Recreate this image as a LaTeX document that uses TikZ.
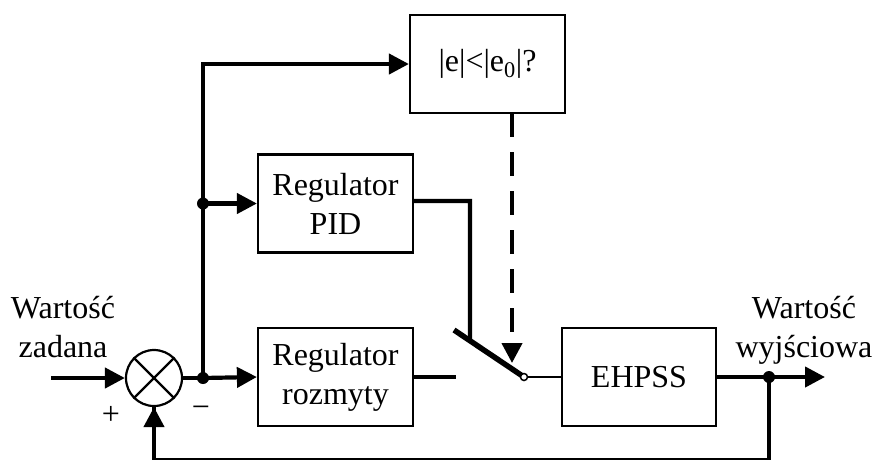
\documentclass[tikz,border=0pt]{standalone}
\usepackage{fontspec}
\setmainfont{Liberation Serif}
\usetikzlibrary{arrows.meta}
\begin{document}
\begin{tikzpicture}[x=1pt,y=-1pt,
  blk/.style={draw, line width=2.2pt, minimum width=155pt, minimum height=98pt, align=center, font=\fontsize{32}{39}\selectfont, inner sep=0pt},
  sig/.style={line width=4.2pt},
  arr/.style={sig, -{Triangle[length=20pt,width=20pt]}},
  dot/.style={circle, fill, inner sep=0pt, minimum size=12pt},
  lbl/.style={font=\fontsize{32}{39}\selectfont, align=center, inner sep=0pt}]
\useasboundingbox (0,0) rectangle (875,459);

\node[blk] (cond) at (487.5,64) {|e|<|e\textsubscript{0}|?};
\node[blk] (pid) at (335.5,203.5) {Regulator\\PID};
\node[blk] (roz) at (335.5,377) {Regulator\\rozmyty};
\node[blk, minimum width=154pt] (ehpss) at (639,377) {EHPSS};
\node[circle, draw, line width=2.2pt, minimum size=56pt, inner sep=0pt] (sum) at (154,378) {};
\draw[line width=2.2pt] (sum.north west) -- (sum.south east) (sum.north east) -- (sum.south west);

\coordinate (in) at (51,378);
\coordinate (j1) at (203,378);
\coordinate (j2) at (203,203.5);
\coordinate (j3) at (769,377);
\coordinate (out) at (825,377);
\coordinate (fb) at (769,460);
\coordinate (pidc) at (470,201);
\coordinate (pidd) at (470,400);
\coordinate (rozend) at (456,377);
\coordinate (sw1) at (454,330);
\coordinate (sw2) at (524,377);
\coordinate (dtop) at (512,113);
\coordinate (dtip) at (512,363);

\draw[arr] (in) -- (sum.west);
\draw[sig] (sum.east) -- (j1);
\draw[arr] (j1) -- (roz.west);
\draw[sig] (j1) -- (j2);
\draw[arr] (j2) -- (pid.west);
\draw[arr] (j2) |- (cond.west);
\draw[sig] (pid.east |- pidc) -- (pidc) -- (intersection of sw1--sw2 and pidc--pidd);
\draw[sig] (roz.east) -- (rozend);
\draw[line width=5.5pt] (sw1) -- (sw2);
\draw[line width=2.2pt] (sw2) -- (ehpss.west);
\node[circle, draw, fill=white, line width=1.5pt, minimum size=7pt, inner sep=0pt] (swc) at (sw2) {};
\draw[arr, dash pattern=on 24pt off 15pt] (dtop) -- (dtip);
\draw[sig] (ehpss.east) -- (j3);
\draw[arr] (j3) -- (out);
\draw[sig] (j3) -- (fb) -| (sum.south);
\draw[arr] (sum.south |- fb) -- (sum.south);

\node[dot] (d1) at (j1) {};
\node[dot] (d2) at (j2) {};
\node[dot] (d3) at (j3) {};

\node[lbl] (lin) at (63,327) {Wartość\\zadana};
\node[lbl] (lout) at (804,330) {Wartość\\wyjściowa};
\node[lbl] (plus) at (111,415) {+};
\node[lbl] (minus) at (201,412) {−};
\end{tikzpicture}
\end{document}
